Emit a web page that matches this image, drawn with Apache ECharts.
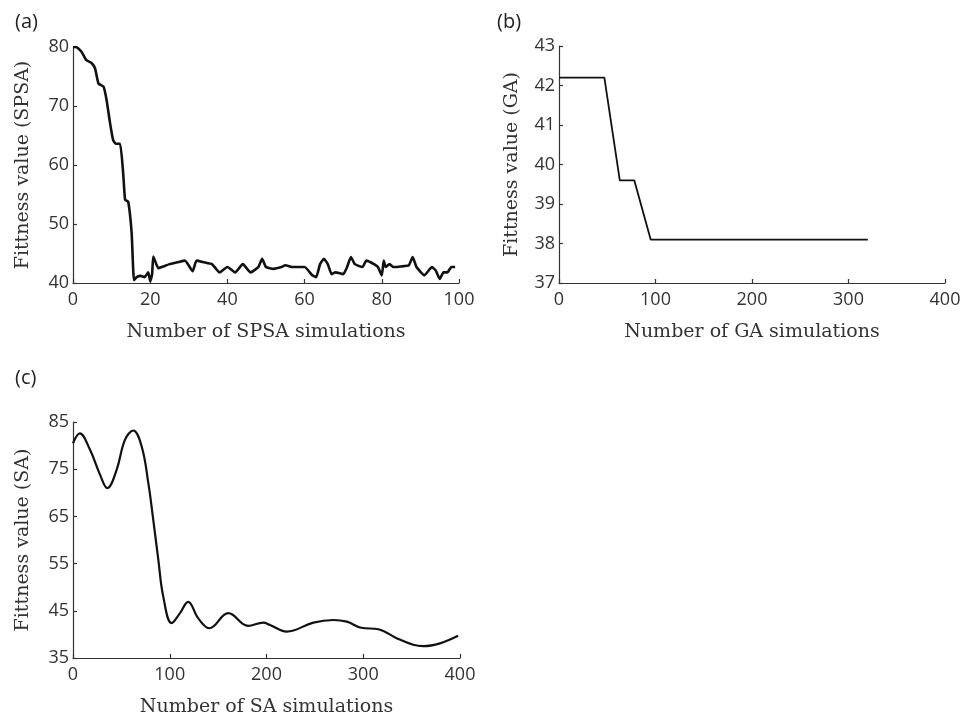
<!DOCTYPE html>
<html>
<head>
<meta charset="utf-8">
<script src="https://cdn.jsdelivr.net/npm/echarts@6/dist/echarts.min.js"></script>
<style>html,body{margin:0;padding:0;background:#fff;}#c{width:966px;height:718px;}</style>
</head>
<body>
<div id="c"></div>
<script>
// Panel (a): SPSA
const spsaX = [0,0.8,2.2,3.4,4.8,5.7,6.6,7.9,8.7,9.6,10.4,11.1,12.2,13,13.5,14.3,15.2,15.8,16.5,17.5,18.5,19.5,20,20.5,20.8,22.1,23,25,27,29,31,32,34,36,38,40,42,44,46,48,49,50,52,54,55,57,60,62,63,64,65,66,67,68,70,71,72,73,75,76,78,79,80,80.5,81,82,83,85,87,88,89,91,93,94,95,96,97,98,99];
const spsaY = [80,80,79.2,77.8,77.3,76.4,73.8,73.3,71,67.1,64.2,63.6,63.6,58.6,54.1,53.8,48.4,40.5,41,41.2,41,41.8,40.3,41.5,44.5,42.5,42.7,43.2,43.5,43.8,42,43.8,43.5,43.2,41.8,42.7,41.8,43.2,41.8,42.7,44.1,42.7,42.4,42.7,43,42.7,42.7,41.3,41,43.2,44.1,43.2,41.5,41.8,41.5,42.7,44.4,43.2,42.7,43.8,43.2,42.7,41.3,43.8,42.7,43.2,42.7,42.8,43,44.4,42.7,41.3,42.7,42.1,40.7,41.8,41.8,42.7,42.7];
// Panel (b): GA
const gaX = [0,47,63,78,95,320];
const gaY = [42.2,42.2,39.6,39.6,38.1,38.1];
// Panel (c): SA
const saX = [0,7,17.6,28,35.5,45,53.7,62.3,71,77.9,83,88.2,93.3,102,110.6,119,129.5,141,160.5,181,196.7,203.6,220.8,248.4,269,283,298,315.6,334.5,351.7,362,379.3,398];
const saY = [80.5,82.6,79.1,73.8,71,74.8,81.2,83.2,79.8,72,64.2,55.8,48,42.4,44.5,46.9,43.4,41.3,44.5,41.8,42.5,42,40.6,42.5,43.05,42.7,41.4,41.1,39.2,37.8,37.5,38.1,39.7];

const xTicksA = {min:0,max:100,interval:20};
const xTicksB = {min:0,max:400,interval:100};
const xTicksC = {min:0,max:400,interval:100};
const yTicksA = {min:40,max:80,interval:10};
const yTicksB = {min:37,max:43,interval:1};
const yTicksC = {min:35,max:85,interval:10};

const zip = (xs, ys) => xs.map((x, i) => [x, ys[i]]);

const axisCommon = {
  axisLine: {show: true, onZero: false, lineStyle: {color: '#333', width: 1.2}},
  axisTick: {show: true, inside: true, length: 4, lineStyle: {color: '#333', width: 1.2}},
  splitLine: {show: false},
  axisLabel: {color: '#333', fontFamily: 'Open Sans', fontSize: 18},
  nameTextStyle: {color: '#333', fontFamily: 'DejaVu Serif', fontSize: 19},
  nameLocation: 'middle'
};
function xAxis(idx, t, name) {
  return Object.assign({}, axisCommon, {type: 'value', gridIndex: idx, min: t.min, max: t.max, interval: t.interval,
    name: name, nameGap: 40, axisLabel: Object.assign({}, axisCommon.axisLabel, {margin: 8})});
}
function yAxis(idx, t, name, gap) {
  return Object.assign({}, axisCommon, {type: 'value', gridIndex: idx, min: t.min, max: t.max, interval: t.interval,
    name: name, nameGap: gap, axisLabel: Object.assign({}, axisCommon.axisLabel, {margin: 4})});
}

const chart = echarts.init(document.getElementById('c'), null, {renderer: 'canvas'});
chart.setOption({
  animation: false,
  backgroundColor: '#fff',
  title: [
    {text: '(a)', left: 10, top: 7, textStyle: {fontFamily: 'Open Sans', fontSize: 20, fontWeight: 'normal', color: '#222'}},
    {text: '(b)', left: 492, top: 7, textStyle: {fontFamily: 'Open Sans', fontSize: 20, fontWeight: 'normal', color: '#222'}},
    {text: '(c)', left: 10, top: 363, textStyle: {fontFamily: 'Open Sans', fontSize: 20, fontWeight: 'normal', color: '#222'}}
  ],
  grid: [
    {left: 73, top: 47, width: 386, height: 236},
    {left: 559, top: 46, width: 386, height: 237},
    {left: 73, top: 422, width: 387, height: 236}
  ],
  xAxis: [
    xAxis(0, xTicksA, 'Number of SPSA simulations'),
    xAxis(1, xTicksB, 'Number of GA simulations'),
    xAxis(2, xTicksC, 'Number of SA simulations')
  ],
  yAxis: [
    yAxis(0, yTicksA, 'Fittness value (SPSA)', 40),
    yAxis(1, yTicksB, 'Fittness value (GA)', 37),
    yAxis(2, yTicksC, 'Fittness value (SA)', 40)
  ],
  series: [
    {type: 'line', xAxisIndex: 0, yAxisIndex: 0, data: zip(spsaX, spsaY), showSymbol: false, smooth: 0.15,
      lineStyle: {color: '#111', width: 2.6}},
    {type: 'line', xAxisIndex: 1, yAxisIndex: 1, data: zip(gaX, gaY), showSymbol: false,
      lineStyle: {color: '#111', width: 1.8}},
    {type: 'line', xAxisIndex: 2, yAxisIndex: 2, data: zip(saX, saY), showSymbol: false, smooth: 0.4,
      lineStyle: {color: '#111', width: 2.2}}
  ]
});
</script>
</body>
</html>
